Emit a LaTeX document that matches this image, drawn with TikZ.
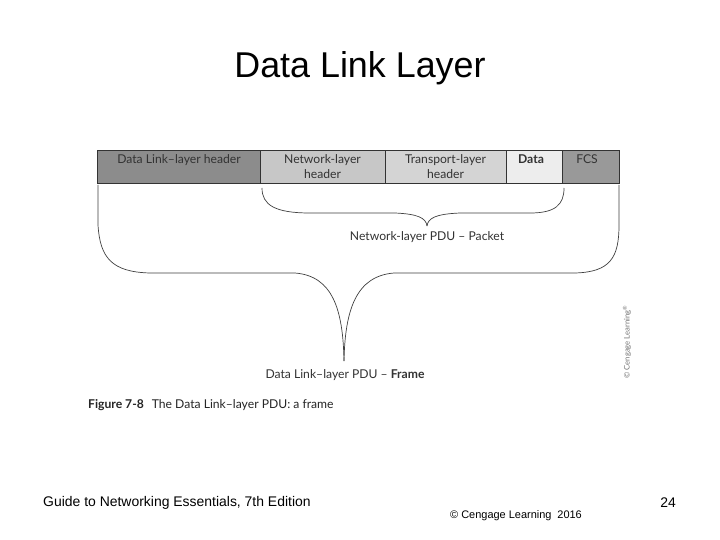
\documentclass[tikz,border=0pt]{standalone}
\usepackage{fontspec}
\setmainfont{Liberation Sans}
\newfontfamily\figfont{Lato}
\begin{document}
\begin{tikzpicture}[x=1bp,y=-1bp,
  seg/.style={draw=black!80,line width=0.6pt},
  seglabel/.style={font=\figfont\fontsize{12.2}{15.5}\selectfont,text=black!80,align=center,anchor=north,inner sep=0pt},
  bracestyle/.style={draw=black!75,line width=0.7pt},
  pdulabel/.style={font=\figfont\fontsize{12.2}{14}\selectfont,text=black!80,inner sep=0pt}]
\useasboundingbox (0,0) rectangle (720,540);
\fill[white] (0,0) rectangle (720,540);
% title
\node (title) at (360,68) {\fontsize{36}{40}\selectfont Data Link Layer};
% bar segments
\filldraw[seg,fill=black!45] (97,150) rectangle (260,183);
\filldraw[seg,fill=black!22] (260,150) rectangle (385,183);
\filldraw[seg,fill=black!17] (385,150) rectangle (506,183);
\filldraw[seg,fill=black!7] (506,150) rectangle (562,183);
\filldraw[seg,fill=black!40] (562,150) rectangle (619,183);
\node[seglabel] (dlh) at (179,154) {Data Link–layer header};
\node[seglabel] (nlh) at (322.5,154) {Network-layer\\header};
\node[seglabel] (tlh) at (445.5,154) {Transport-layer\\header};
\node[seglabel] (dat) at (531,154) {\vphantom{Lk}\bfseries Data};
\node[seglabel] (fcs) at (587,154) {\vphantom{Lk}FCS};
% small brace
\coordinate (sbL) at (262,188);
\coordinate (sbR) at (564,188);
\coordinate (sbT) at (427,226);
\draw[bracestyle] (sbL) .. controls (262,205) and (275,213) .. (310,213)
  -- (395,213) .. controls (418,214) and (426,218) .. (sbT);
\draw[bracestyle] (sbT) .. controls (428,218) and (436,214) .. (460,213)
  -- (530,213) .. controls (555,213) and (564,205) .. (sbR);
\node[pdulabel] (pkt) at (427,237) {Network-layer PDU – Packet};
% large brace
\coordinate (lbL) at (98,185);
\coordinate (lbR) at (619,185);
\coordinate (lbT) at (344,361);
\draw[bracestyle] (lbL) -- (98,225) .. controls (100,258) and (112,272) .. (150,273)
  -- (295,273) .. controls (333,276) and (343,310) .. (lbT);
\draw[bracestyle] (lbT) .. controls (345,310) and (356,276) .. (394,273)
  -- (575,273) .. controls (610,272) and (619,258) .. (619,225) -- (lbR);
\node[pdulabel] (frm) at (345,375) {Data Link–layer PDU – \textbf{Frame}};
% caption
\node[anchor=west,inner sep=0pt,font=\figfont\fontsize{12.2}{14}\selectfont,text=black!85] (cap) at (88,405)
  {\textbf{Figure 7-8}\hspace{8pt}The Data Link–layer PDU: a frame};
% watermark
\node[rotate=90,inner sep=0pt,font=\figfont\fontsize{7.7}{8}\selectfont,text=black!55] (wm) at (627,342) {© Cengage Learning\textsuperscript{®}};
% footer
\node[anchor=west,inner sep=0pt] (foot) at (43,503) {\fontsize{14}{16}\selectfont Guide to Networking Essentials, 7th Edition};
\node[anchor=west,inner sep=0pt] (copy) at (450,516) {\fontsize{11}{13}\selectfont © Cengage Learning\hspace{6pt}2016};
\node[inner sep=0pt] (page) at (668,503) {\fontsize{14}{16}\selectfont 24};
\end{tikzpicture}
\end{document}
